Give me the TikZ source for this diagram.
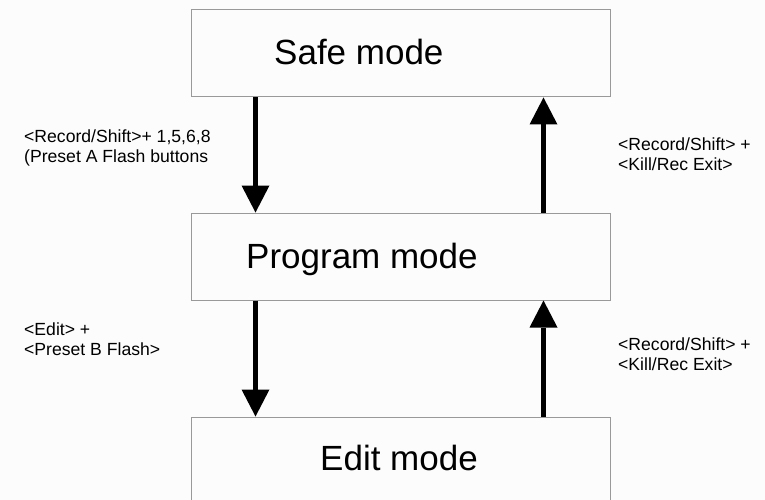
\documentclass[tikz,border=0pt]{standalone}
\usepackage{fontspec}
\setmainfont{Liberation Sans}
\usetikzlibrary{arrows.meta}
\usetikzlibrary{calc}

\begin{document}
\begin{tikzpicture}[line cap=butt,line join=miter,x=1pt,y=1pt,
  modebox/.style={draw=black!40,line width=1pt,minimum width=419pt,minimum height=87pt,inner sep=0pt},
  modetext/.style={anchor=base west,inner sep=0pt,font=\fontsize{35}{40}\selectfont},
  keytext/.style={anchor=base west,inner sep=0pt,align=left,font=\fontsize{17.6}{19.8}\selectfont},
  flow/.style={line width=5pt,-{Triangle[length=27pt,width=28pt,line width=0pt]}}]
\clip (0,0) rectangle (765,-500);
\fill [black!1] (0,0) rectangle (765,-500);
% the three modes
\node [modebox] (safe) at (400.5,-53.5) {};
\node [modebox] (prog) at (400.5,-256.5) {};
\node [modebox] (edit) at (400.5,-460.5) {};
\node [modetext] (safetext) at (274,-64.3) {Safe mode};
\node [modetext] (progtext) at (246,-268.3) {Program mode};
\node [modetext] (edittext) at (320,-470) {Edit mode};
% key combinations (base = last line)
\node [keytext] (tosafe1) at (24,-162) {<Record/Shift>+ 1,5,6,8\\(Preset A Flash buttons};
\node [keytext] (exitprog) at (618,-170.7) {<Record/Shift> +\\<Kill/Rec Exit>};
\node [keytext] (toedit) at (24,-355.7) {<Edit> +\\<Preset B Flash>};
\node [keytext] (exitedit) at (618,-370.7) {<Record/Shift> +\\<Kill/Rec Exit>};
% transitions
\draw [flow] ($(safe.south west)+(65,0)$) -- ($(prog.north west)+(65,0)$);
\draw [flow] ($(prog.north west)+(353,0)$) -- ($(safe.south west)+(353,0)$);
\draw [flow] ($(prog.south west)+(65,0)$) -- ($(edit.north west)+(65,0)$);
\draw [flow] ($(edit.north west)+(353,0)$) -- ($(prog.south west)+(353,0)$);
\end{tikzpicture}
\end{document}
